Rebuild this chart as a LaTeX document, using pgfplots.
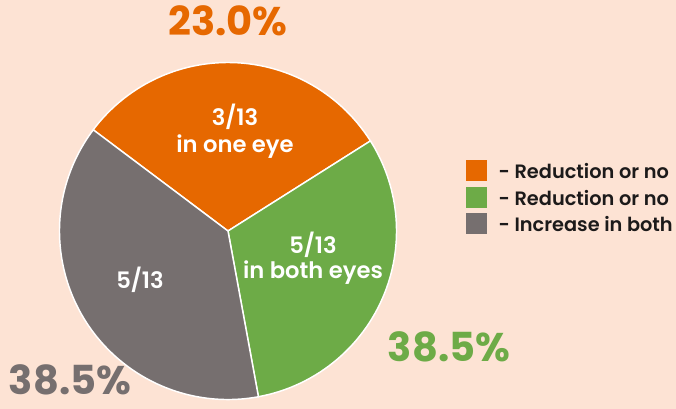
\documentclass[border=0pt]{standalone}
\usepackage{fontspec}
\setmainfont{Poppins}[BoldFont={Poppins SemiBold}]
\newfontfamily\heavy{Poppins Bold}
\usepackage{pgfplots}
\pgfplotsset{compat=1.18}

\definecolor{bg}{HTML}{FDE3D4}
\definecolor{pieorange}{HTML}{E66800}
\definecolor{piegreen}{HTML}{6DAB47}
\definecolor{piegray}{HTML}{766F6F}
\definecolor{legtext}{HTML}{1C1A1A}

% slice: start angle, end angle, colour (centre 228,178 px, radius 168.5 px)
\newcommand{\slice}[3]{%
  \filldraw[fill=#3, draw=white, line width=1.1pt, line join=round]
    (axis cs:228,178) -- (axis cs:{228+168.5*cos(#1)},{178+168.5*sin(#1)})
    arc[start angle=#1, end angle=#2, radius=126.4pt] -- cycle;}

\begin{document}
\begin{tikzpicture}
\begin{axis}[
    hide axis,
    x=0.75pt, y=0.75pt,
    xmin=0, xmax=676, ymin=0, ymax=409,
    anchor=origin, at={(0,0)},
    clip=false,
]
\fill[bg] (axis cs:0,0) rectangle (axis cs:676,409);

% wedges as drawn in the reference (3/13, 5/13, 5/13)
\slice{32.3}{143.1}{pieorange}
\slice{-79.6}{32.3}{piegreen}
\slice{143.1}{280.4}{piegray}

% labels inside
\node[white, font=\bfseries\fontsize{17}{19}\selectfont] at (axis cs:235,292) {3/13};
\node[white, font=\bfseries\fontsize{17}{19}\selectfont] at (axis cs:235,262) {in one eye};
\node[white, font=\bfseries\fontsize{17}{19}\selectfont] at (axis cs:313,164) {5/13};
\node[white, font=\bfseries\fontsize{17}{19}\selectfont] at (axis cs:313,136) {in both eyes};
\node[white, font=\bfseries\fontsize{17}{19}\selectfont] at (axis cs:140,129) {5/13};

% percentages
\node[pieorange, font=\heavy\fontsize{30}{33}\selectfont] at (axis cs:228,388) {23.0\%};
\node[piegreen, font=\heavy\fontsize{30}{33}\selectfont] at (axis cs:449,62) {38.5\%};
\node[piegray, font=\heavy\fontsize{30}{33}\selectfont] at (axis cs:70,29) {38.5\%};

% legend (text cut at the right edge, as in the reference)
\fill[pieorange] (axis cs:466,228) rectangle (axis cs:487,249);
\fill[piegreen] (axis cs:466,201) rectangle (axis cs:487,222);
\fill[piegray] (axis cs:466,175) rectangle (axis cs:487,196);
\node[legtext, anchor=west, font=\bfseries\fontsize{14.5}{16}\selectfont] at (axis cs:494,238) {- Reduction or no};
\node[legtext, anchor=west, font=\bfseries\fontsize{14.5}{16}\selectfont] at (axis cs:494,211) {- Reduction or no};
\node[legtext, anchor=west, font=\bfseries\fontsize{14.5}{16}\selectfont] at (axis cs:494,185) {- Increase in both};
\end{axis}
\pgfresetboundingbox
\path[use as bounding box] (0,0) rectangle (507pt,306.75pt);
\end{tikzpicture}
\end{document}
